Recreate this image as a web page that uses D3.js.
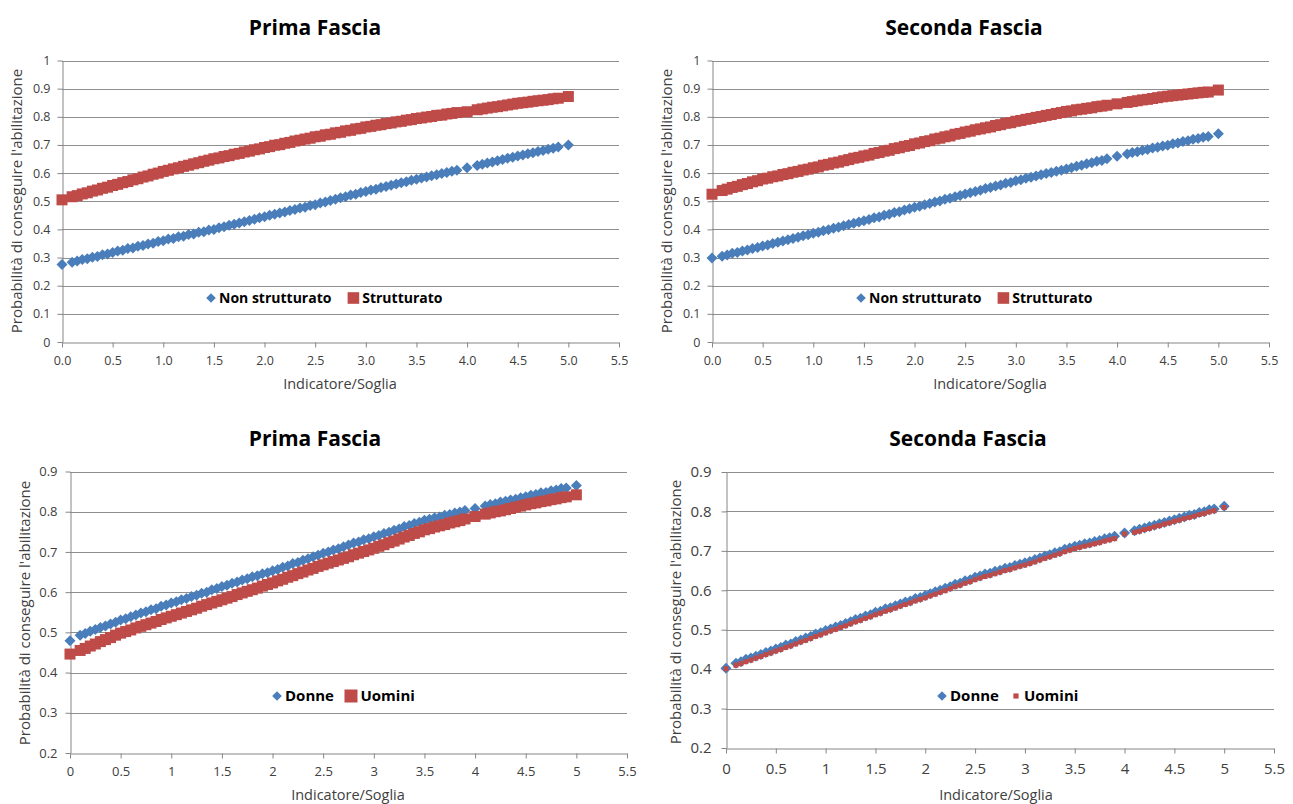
<!doctype html>
<html>
<head>
<meta charset="utf-8">
<script src="https://cdnjs.cloudflare.com/ajax/libs/d3/7.8.5/d3.min.js"></script>
<style>
    body { margin: 0; background: #fff; }
    svg { display: block; font-family: "Open Sans", sans-serif; }
</style>
</head>
<body>
<svg width="1293" height="804"></svg>
<script>
    // Indicatore/Soglia values (shared by all series)
    var soglia = [0, 0.1, 0.15, 0.2, 0.25, 0.3, 0.35, 0.4, 0.45, 0.5,
        0.55, 0.6, 0.65, 0.7, 0.75, 0.8, 0.85, 0.9, 0.95, 1.0,
        1.05, 1.1, 1.15, 1.2, 1.25, 1.3, 1.35, 1.4, 1.45, 1.5,
        1.55, 1.6, 1.65, 1.7, 1.75, 1.8, 1.85, 1.9, 1.95, 2.0,
        2.05, 2.1, 2.15, 2.2, 2.25, 2.3, 2.35, 2.4, 2.45, 2.5,
        2.55, 2.6, 2.65, 2.7, 2.75, 2.8, 2.85, 2.9, 2.95, 3.0,
        3.05, 3.1, 3.15, 3.2, 3.25, 3.3, 3.35, 3.4, 3.45, 3.5,
        3.55, 3.6, 3.65, 3.7, 3.75, 3.8, 3.85, 3.9,
        4.0,
        4.1, 4.15, 4.2, 4.25, 4.3, 4.35, 4.4, 4.45, 4.5, 4.55, 4.6, 4.65, 4.7, 4.75, 4.8, 4.85, 4.9,
        5.0];

    // Prima Fascia - Non strutturato / Strutturato
    var nonStrPrima = [0.275, 0.283, 0.288, 0.293, 0.296, 0.301, 0.304, 0.310, 0.313, 0.318,
        0.323, 0.326, 0.332, 0.334, 0.340, 0.343, 0.348, 0.351, 0.357, 0.360,
        0.366, 0.368, 0.374, 0.376, 0.382, 0.384, 0.390, 0.392, 0.398, 0.400,
        0.406, 0.409, 0.415, 0.418, 0.423, 0.427, 0.432, 0.436, 0.441, 0.445,
        0.450, 0.454, 0.458, 0.462, 0.467, 0.471, 0.476, 0.479, 0.485, 0.488,
        0.494, 0.497, 0.503, 0.507, 0.512, 0.516, 0.522, 0.525, 0.531, 0.535,
        0.540, 0.543, 0.549, 0.552, 0.557, 0.561, 0.566, 0.569, 0.575, 0.578,
        0.583, 0.586, 0.591, 0.594, 0.599, 0.602, 0.607, 0.610,
        0.619,
        0.627, 0.631, 0.636, 0.639, 0.644, 0.648, 0.653, 0.656, 0.661, 0.664, 0.669, 0.672, 0.677, 0.680, 0.685, 0.688, 0.693,
        0.700];
    var strPrima = [0.505, 0.516, 0.520, 0.526, 0.530, 0.536, 0.540, 0.546, 0.550, 0.556,
        0.560, 0.566, 0.570, 0.576, 0.580, 0.586, 0.590, 0.596, 0.600, 0.606,
        0.610, 0.615, 0.619, 0.624, 0.628, 0.633, 0.637, 0.642, 0.646, 0.651,
        0.654, 0.659, 0.662, 0.667, 0.670, 0.675, 0.678, 0.683, 0.686, 0.691,
        0.694, 0.699, 0.701, 0.706, 0.709, 0.714, 0.717, 0.721, 0.724, 0.729,
        0.731, 0.736, 0.738, 0.743, 0.745, 0.750, 0.752, 0.757, 0.759, 0.764,
        0.766, 0.770, 0.772, 0.776, 0.778, 0.782, 0.784, 0.788, 0.790, 0.794,
        0.796, 0.799, 0.801, 0.805, 0.806, 0.810, 0.812, 0.815,
        0.818,
        0.825, 0.828, 0.831, 0.834, 0.836, 0.839, 0.842, 0.845, 0.848, 0.850, 0.852, 0.855, 0.857, 0.859, 0.861, 0.864, 0.866,
        0.872];

    // Seconda Fascia - Non strutturato / Strutturato
    var nonStrSeconda = [0.298, 0.305, 0.309, 0.315, 0.318, 0.323, 0.327, 0.332, 0.336, 0.341,
        0.345, 0.350, 0.354, 0.359, 0.363, 0.368, 0.372, 0.377, 0.381, 0.386,
        0.390, 0.395, 0.399, 0.404, 0.408, 0.413, 0.417, 0.422, 0.426, 0.431,
        0.435, 0.441, 0.444, 0.450, 0.454, 0.460, 0.463, 0.469, 0.473, 0.479,
        0.482, 0.488, 0.492, 0.497, 0.501, 0.507, 0.511, 0.516, 0.520, 0.526,
        0.530, 0.535, 0.539, 0.545, 0.549, 0.554, 0.558, 0.564, 0.567, 0.573,
        0.576, 0.582, 0.585, 0.590, 0.594, 0.599, 0.602, 0.607, 0.610, 0.615,
        0.619, 0.624, 0.628, 0.633, 0.637, 0.642, 0.645, 0.651,
        0.660,
        0.668, 0.673, 0.676, 0.681, 0.684, 0.689, 0.692, 0.696, 0.699, 0.704, 0.707, 0.712, 0.715, 0.720, 0.723, 0.727, 0.730,
        0.740];
    var strSeconda = [0.525, 0.538, 0.543, 0.549, 0.553, 0.559, 0.563, 0.569, 0.573, 0.579,
        0.582, 0.587, 0.590, 0.595, 0.598, 0.603, 0.606, 0.611, 0.614, 0.619,
        0.622, 0.628, 0.631, 0.636, 0.639, 0.644, 0.648, 0.653, 0.656, 0.661,
        0.664, 0.670, 0.673, 0.678, 0.681, 0.687, 0.690, 0.695, 0.698, 0.704,
        0.707, 0.712, 0.715, 0.721, 0.724, 0.729, 0.732, 0.738, 0.741, 0.746,
        0.749, 0.754, 0.757, 0.761, 0.764, 0.769, 0.772, 0.777, 0.779, 0.784,
        0.787, 0.791, 0.794, 0.798, 0.801, 0.805, 0.808, 0.812, 0.815, 0.819,
        0.821, 0.825, 0.827, 0.830, 0.832, 0.836, 0.838, 0.841,
        0.846,
        0.851, 0.854, 0.857, 0.860, 0.862, 0.865, 0.868, 0.871, 0.873, 0.875, 0.877, 0.879, 0.881, 0.883, 0.885, 0.887, 0.888,
        0.895];

    // Prima Fascia - Donne / Uomini
    var donnePrima = [0.479, 0.493, 0.497, 0.503, 0.507, 0.512, 0.516, 0.521, 0.525, 0.531,
        0.534, 0.539, 0.543, 0.548, 0.551, 0.556, 0.559, 0.565, 0.568, 0.573,
        0.576, 0.581, 0.584, 0.589, 0.592, 0.597, 0.600, 0.606, 0.609, 0.614,
        0.617, 0.622, 0.625, 0.630, 0.633, 0.638, 0.641, 0.646, 0.648, 0.653,
        0.656, 0.662, 0.665, 0.671, 0.674, 0.679, 0.683, 0.688, 0.692, 0.697,
        0.700, 0.705, 0.708, 0.713, 0.717, 0.722, 0.725, 0.730, 0.733, 0.738,
        0.741, 0.746, 0.749, 0.754, 0.757, 0.763, 0.766, 0.771, 0.774, 0.779,
        0.781, 0.785, 0.787, 0.791, 0.793, 0.797, 0.799, 0.803,
        0.808,
        0.814, 0.818, 0.820, 0.824, 0.826, 0.829, 0.831, 0.835, 0.837, 0.841, 0.843, 0.847, 0.848, 0.852, 0.854, 0.858, 0.859,
        0.865];
    var uominiPrima = [0.446, 0.455, 0.460, 0.466, 0.471, 0.477, 0.482, 0.487, 0.493, 0.498,
        0.502, 0.506, 0.511, 0.515, 0.519, 0.523, 0.527, 0.532, 0.536, 0.540,
        0.544, 0.548, 0.552, 0.556, 0.560, 0.565, 0.569, 0.573, 0.577, 0.581,
        0.585, 0.589, 0.594, 0.598, 0.602, 0.606, 0.610, 0.615, 0.619, 0.623,
        0.628, 0.632, 0.637, 0.641, 0.646, 0.650, 0.655, 0.659, 0.664, 0.668,
        0.672, 0.676, 0.680, 0.684, 0.688, 0.693, 0.697, 0.701, 0.705, 0.709,
        0.714, 0.718, 0.723, 0.727, 0.732, 0.737, 0.741, 0.746, 0.750, 0.755,
        0.758, 0.762, 0.765, 0.768, 0.772, 0.775, 0.778, 0.782,
        0.788,
        0.794, 0.797, 0.800, 0.802, 0.805, 0.808, 0.811, 0.814, 0.817, 0.820, 0.822, 0.825, 0.827, 0.830, 0.832, 0.835, 0.837,
        0.842];

    // Seconda Fascia - Donne / Uomini
    var donneSeconda = [0.402, 0.415, 0.419, 0.425, 0.428, 0.433, 0.437, 0.442, 0.446, 0.451,
        0.455, 0.461, 0.464, 0.470, 0.474, 0.479, 0.483, 0.489, 0.492, 0.498,
        0.502, 0.507, 0.511, 0.516, 0.520, 0.526, 0.529, 0.535, 0.538, 0.544,
        0.547, 0.553, 0.556, 0.561, 0.565, 0.570, 0.573, 0.579, 0.582, 0.587,
        0.591, 0.596, 0.600, 0.605, 0.609, 0.615, 0.618, 0.624, 0.627, 0.633,
        0.636, 0.641, 0.643, 0.648, 0.651, 0.656, 0.658, 0.663, 0.666, 0.670,
        0.673, 0.678, 0.682, 0.687, 0.690, 0.695, 0.698, 0.704, 0.707, 0.712,
        0.714, 0.718, 0.720, 0.724, 0.726, 0.731, 0.733, 0.737,
        0.745,
        0.751, 0.755, 0.758, 0.762, 0.765, 0.769, 0.772, 0.776, 0.779, 0.783, 0.786, 0.790, 0.792, 0.797, 0.799, 0.804, 0.806,
        0.813];
    var uominiSeconda = [0.401, 0.410, 0.414, 0.419, 0.423, 0.428, 0.432, 0.437, 0.441, 0.446,
        0.450, 0.455, 0.459, 0.464, 0.469, 0.473, 0.478, 0.483, 0.487, 0.492,
        0.497, 0.501, 0.506, 0.510, 0.515, 0.520, 0.524, 0.529, 0.533, 0.538,
        0.542, 0.547, 0.551, 0.555, 0.560, 0.564, 0.568, 0.573, 0.577, 0.581,
        0.586, 0.590, 0.595, 0.599, 0.604, 0.609, 0.613, 0.618, 0.622, 0.627,
        0.631, 0.635, 0.638, 0.642, 0.646, 0.650, 0.653, 0.657, 0.661, 0.664,
        0.668, 0.672, 0.677, 0.681, 0.685, 0.689, 0.693, 0.698, 0.702, 0.706,
        0.709, 0.712, 0.715, 0.718, 0.721, 0.725, 0.728, 0.731,
        0.743,
        0.747, 0.750, 0.754, 0.757, 0.761, 0.764, 0.768, 0.771, 0.775, 0.778, 0.782, 0.785, 0.788, 0.792, 0.795, 0.799, 0.802,
        0.810];

    var xTicks = [0, 0.5, 1, 1.5, 2, 2.5, 3, 3.5, 4, 4.5, 5, 5.5];
    var yTicksTop = [0, 0.1, 0.2, 0.3, 0.4, 0.5, 0.6, 0.7, 0.8, 0.9, 1];
    var yTicksBottom = [0.2, 0.3, 0.4, 0.5, 0.6, 0.7, 0.8, 0.9];

    var BLUE = "#4a7ebb", RED = "#be4b48";
    var yTitle = "Probabilità di conseguire l'abilitazione";
    var xTitle = "Indicatore/Soglia";

    var panels = [
        {title: "Prima Fascia", left: 62, right: 619, top: 60.5, bottom: 342,
            yDomain: [0, 1], yTicks: yTicksTop, xFmt: d3.format(".1f"), tick: 12.5, xPad: 9, yPad: 7,
            titleX: 315, titleY: 35, xTitleX: 340, xTitleY: 389, yTitleX: 17, yTitleY: 201,
            legendX: 211, legendY: 298, legendFont: 14, legendGap: 22, legendSquare: 5.8,
            series: [{name: "Non strutturato", y: nonStrPrima, shape: "diamond", r: 5.5, color: BLUE},
                {name: "Strutturato", y: strPrima, shape: "square", r: 5.5, color: RED}]},
        {title: "Seconda Fascia", left: 712, right: 1269, top: 60.5, bottom: 342,
            yDomain: [0, 1], yTicks: yTicksTop, xFmt: d3.format(".1f"), tick: 12.5, xPad: 9, yPad: 7,
            titleX: 964, titleY: 35, xTitleX: 990, xTitleY: 389, yTitleX: 667, yTitleY: 201,
            legendX: 861, legendY: 298, legendFont: 14, legendGap: 22, legendSquare: 5.8,
            series: [{name: "Non strutturato", y: nonStrSeconda, shape: "diamond", r: 5.5, color: BLUE},
                {name: "Strutturato", y: strSeconda, shape: "square", r: 5.5, color: RED}]},
        {title: "Prima Fascia", left: 70, right: 627, top: 471.5, bottom: 753,
            yDomain: [0.2, 0.9], yTicks: yTicksBottom, xFmt: String, tick: 13, xPad: 8, yPad: 8,
            titleX: 315, titleY: 446, xTitleX: 348, xTitleY: 800, yTitleX: 25, yTitleY: 613,
            legendX: 277, legendY: 696, legendFont: 15, legendGap: 17, legendSquare: 6.5,
            series: [{name: "Donne", y: donnePrima, shape: "diamond", r: 5.5, color: BLUE},
                {name: "Uomini", y: uominiPrima, shape: "square", r: 5.5, color: RED}]},
        {title: "Seconda Fascia", left: 726, right: 1274, top: 472, bottom: 748,
            yDomain: [0.2, 0.9], yTicks: yTicksBottom, xFmt: String, tick: 15, xPad: 10, yPad: 10,
            titleX: 968, titleY: 446, xTitleX: 996, xTitleY: 800, yTitleX: 676, yTitleY: 612,
            legendX: 942, legendY: 696, legendFont: 15, legendGap: 17, legendSquare: 2.6,
            series: [{name: "Donne", y: donneSeconda, shape: "diamond", r: 5.5, color: BLUE},
                {name: "Uomini", y: uominiSeconda, shape: "square", r: 2.5, color: RED}]}
    ];

    var svg = d3.select("svg");

    function marker(sel, shape, r, color) {
        if (shape === "diamond") {
            sel.append("path")
                .attr("d", "M0," + (-r) + "L" + r + ",0L0," + r + "L" + (-r) + ",0Z")
                .style("fill", color);
        } else {
            sel.append("rect")
                .attr("x", -r).attr("y", -r)
                .attr("width", 2 * r).attr("height", 2 * r)
                .style("fill", color);
        }
    }

    panels.forEach(function (p) {
        var g = svg.append("g");
        var x = d3.scaleLinear().domain([0, 5.5]).range([p.left, p.right]);
        var y = d3.scaleLinear().domain(p.yDomain).range([p.bottom, p.top]);

        // horizontal gridlines
        g.append("g").selectAll("line")
            .data(p.yTicks.slice(1))
            .enter().append("line")
            .attr("x1", p.left).attr("x2", p.right)
            .attr("y1", d => Math.round(y(d)) + 0.5).attr("y2", d => Math.round(y(d)) + 0.5)
            .style("stroke", "#8e8e8e").style("stroke-width", 1);

        var xAxis = g.append("g")
            .attr("transform", "translate(0," + (Math.round(p.bottom) + 0.5) + ")")
            .call(d3.axisBottom(x).tickValues(xTicks).tickFormat(p.xFmt).tickSize(5).tickPadding(p.xPad).tickSizeOuter(0));
        var yAxis = g.append("g")
            .attr("transform", "translate(" + (Math.round(p.left) + 0.5) + ",0)")
            .call(d3.axisLeft(y).tickValues(p.yTicks).tickFormat(String).tickSize(5).tickPadding(p.yPad).tickSizeOuter(0));
        [xAxis, yAxis].forEach(function (a) {
            a.select(".domain").style("stroke", "#868686");
            a.selectAll(".tick line").style("stroke", "#868686");
            a.selectAll(".tick text")
                .style("font-size", p.tick + "px")
                .style("fill", "#404040")
                .style("font-family", "'Open Sans', sans-serif");
        });

        // points
        p.series.forEach(function (s) {
            var pts = soglia.map((v, i) => ({x: v, y: s.y[i]})).filter(d => d.y != null);
            g.append("g").selectAll("g")
                .data(pts)
                .enter().append("g")
                .attr("transform", d => "translate(" + x(d.x) + "," + y(d.y) + ")")
                .each(function () { marker(d3.select(this), s.shape, s.r, s.color); });
        });

        // titles
        g.append("text")
            .attr("x", p.titleX).attr("y", p.titleY)
            .attr("text-anchor", "middle")
            .style("font-size", "21px").style("font-weight", "bold").style("fill", "#000")
            .text(p.title);
        g.append("text")
            .attr("x", p.xTitleX).attr("y", p.xTitleY)
            .attr("text-anchor", "middle")
            .style("font-size", "14.5px").style("fill", "#404040")
            .text(xTitle);
        g.append("text")
            .attr("transform", "translate(" + p.yTitleX + "," + p.yTitleY + ") rotate(-90)")
            .attr("dy", "0.35em")
            .attr("text-anchor", "middle")
            .style("font-size", "15px").style("fill", "#404040")
            .text(yTitle);

        // legend
        var lx = p.legendX;
        p.series.forEach(function (s) {
            var half = s.shape === "diamond" ? 4.8 : p.legendSquare;
            var m = g.append("g").attr("transform", "translate(" + lx + "," + p.legendY + ")");
            marker(m, s.shape, half, s.color);
            var t = g.append("text")
                .attr("x", lx + Math.max(half, 5) + 3).attr("y", p.legendY).attr("dy", "0.35em")
                .style("font-size", p.legendFont + "px").style("font-weight", "bold").style("fill", "#000")
                .text(s.name);
            lx = lx + Math.max(half, 5) + 3 + t.node().getComputedTextLength() + p.legendGap;
        });
    });
</script>
</body>
</html>
